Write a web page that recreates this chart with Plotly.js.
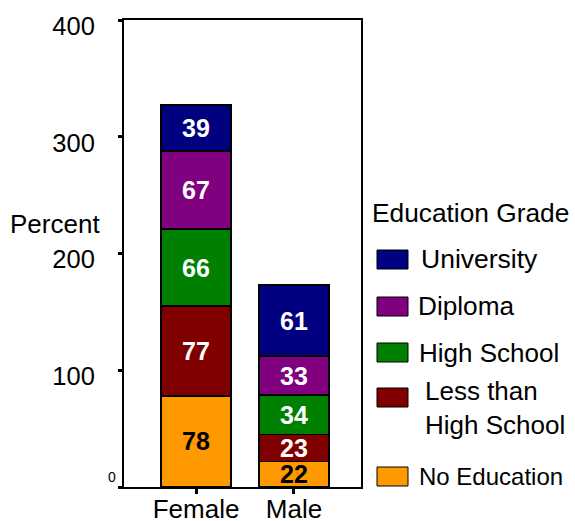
<!DOCTYPE html>
<html>
<head>
<meta charset="utf-8">
<script src="https://cdn.plot.ly/plotly-3.0.1.min.js"></script>
<style>html,body{margin:0;padding:0;background:#fff;}#chart{width:575px;height:521px;}</style>
</head>
<body>
<div id="chart"></div>
<script>
// ---- data ----
const categories = ['Female', 'Male'];
const seriesNames = ['No Education', 'Less than High School', 'High School', 'Diploma', 'University'];
const noEducation = [78, 22];
const lessThanHighSchool = [77, 23];
const highSchool = [66, 34];
const diploma = [67, 33];
const university = [39, 61];
const seriesValues = [noEducation, lessThanHighSchool, highSchool, diploma, university];
const seriesColors = ['#FF9900', '#800000', '#008000', '#800080', '#000080'];
const labelColors = ['#000000', '#ffffff', '#ffffff', '#ffffff', '#ffffff'];
const legendTitle = 'Education Grade';
const legendLabels = ['No Education', 'Less than<br>High School', 'High School', 'Diploma', 'University'];
const yTickVals = [0, 100, 200, 300, 400];
const yTickText = ['', '100', '200', '300', '400'];
const yAxisTitle = 'Percent';

// ---- layout geometry (pixels) ----
const W = 575, H = 521;
const L = 124, R = 361, T = 20, B = 487;
const FONT = 'Liberation Sans, Arial, sans-serif';
const px2x = p => (p - L) / (R - L);
const py2y = p => (B - p) / (B - T);

const traces = seriesNames.map((name, i) => ({
  type: 'bar',
  name: name,
  x: categories,
  y: seriesValues[i],
  text: seriesValues[i].map(String),
  texttemplate: '%{text}',
  textposition: 'inside',
  insidetextanchor: 'middle',
  textangle: 0,
  constraintext: 'none',
  textfont: {family: FONT, size: 25, color: labelColors[i], weight: 'bold'},
  marker: {color: seriesColors[i], line: {color: '#000', width: 1.5}},
  width: 0.714,
  showlegend: false,
  hoverinfo: 'x+y+name'
}));

// legend (drawn in paper coords), top-to-bottom = reverse of stack
const legRows = [
  {sw: [250, 269], tx: 419, ty: 259, fs: 26.5},
  {sw: [297, 316], tx: 416, ty: 306, fs: 26.2},
  {sw: [343, 362], tx: 417, ty: 353, fs: 26},
  {sw: [388, 407], tx: 423, ty: 408, fs: 26},
  {sw: [467, 486], tx: 417, ty: 476, fs: 24}
];
const shapes = [];
const annotations = [];
legRows.forEach((r, k) => {
  const i = seriesNames.length - 1 - k;
  shapes.push({type: 'rect', xref: 'paper', yref: 'paper',
    x0: px2x(377), x1: px2x(408), y0: py2y(r.sw[1]), y1: py2y(r.sw[0]),
    fillcolor: seriesColors[i], line: {color: '#000', width: 1}});
  annotations.push({xref: 'paper', yref: 'paper', x: px2x(r.tx), y: py2y(r.ty),
    xanchor: 'left', yanchor: 'middle', align: 'left', showarrow: false,
    text: legendLabels[i], font: {family: FONT, size: r.fs, color: '#000'}});
});
annotations.push({xref: 'paper', yref: 'paper', x: px2x(370), y: py2y(213),
  xanchor: 'left', yanchor: 'middle', showarrow: false, text: legendTitle,
  font: {family: FONT, size: 26.3, color: '#000'}});
annotations.push({xref: 'paper', yref: 'paper', x: px2x(102), y: py2y(224),
  xanchor: 'right', yanchor: 'middle', showarrow: false, text: yAxisTitle,
  font: {family: FONT, size: 26, color: '#000'}});
annotations.push({xref: 'paper', yref: 'y', x: px2x(118), y: yTickVals[0],
  xanchor: 'right', yanchor: 'bottom', showarrow: false, text: '0',
  font: {family: FONT, size: 14, color: '#000'}});

const layout = {
  width: W, height: H,
  margin: {l: L, r: W - R, t: T, b: H - B, pad: 0},
  paper_bgcolor: '#fff', plot_bgcolor: '#fff',
  barmode: 'stack',
  bargap: 0.3,
  showlegend: false,
  font: {family: FONT, size: 25, color: '#000'},
  xaxis: {
    type: 'category', range: [-0.735, 1.684],
    showline: true, linecolor: '#000', linewidth: 2, mirror: true,
    ticks: 'outside', ticklen: 5, tickwidth: 3, tickcolor: '#000',
    showgrid: false, zeroline: false,
    tickfont: {family: FONT, size: 26, color: '#000'},
    ticklabelstandoff: -7
  },
  yaxis: {
    range: [0, 400], tickvals: yTickVals, ticktext: yTickText,
    showline: true, linecolor: '#000', linewidth: 2, mirror: true,
    ticks: 'outside', ticklen: 4, tickwidth: 3, tickcolor: '#000',
    showgrid: false, zeroline: false,
    tickfont: {family: FONT, size: 25.5, color: '#000'},
    ticklabelstandoff: 18,
    ticklabelshift: 6
  },
  shapes: shapes,
  annotations: annotations
};

Plotly.newPlot('chart', traces, layout, {displayModeBar: false, staticPlot: true});
</script>
</body>
</html>
